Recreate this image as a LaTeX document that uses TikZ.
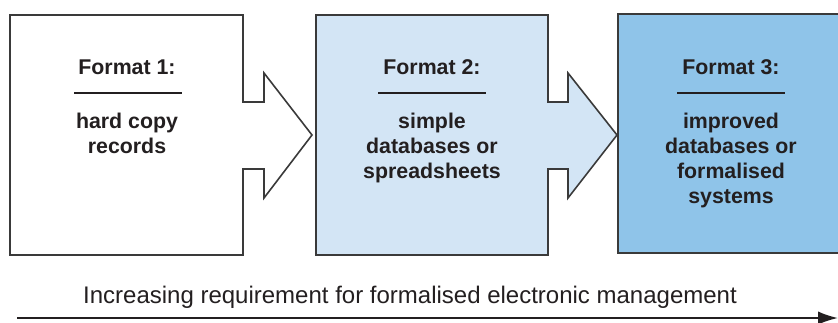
\documentclass[tikz,border=0pt]{standalone}
\usepackage{fontspec}
\setmainfont{Liberation Sans}
\usetikzlibrary{arrows.meta,positioning}
\definecolor{inkgray}{HTML}{231F20}
\definecolor{edgegray}{HTML}{3A3A3A}
\definecolor{paleblue}{HTML}{D3E5F5}
\definecolor{midblue}{HTML}{8FC4E9}

\begin{document}
\begin{tikzpicture}[x=0.75pt,y=-0.75pt,line join=miter,
  every node/.style={text=inkgray,inner sep=0pt},
  title/.style={font=\fontsize{16}{18}\selectfont\bfseries,anchor=base},
  body/.style={font=\fontsize{16}{18.8}\selectfont\bfseries,align=center,anchor=north}]
  \tikzstyle{outline}=[draw=edgegray,line width=1.2pt]
  \tikzstyle{rule}=[draw=inkgray,line width=1.5pt]
  \useasboundingbox (0,0) rectangle (838,322);

  % formats, each box with its arrow
  \draw[outline,fill=white] (10,15) -- (243,15) -- (243,102) -- (264,102) -- (264,73)
    -- (312,135) -- (264,198) -- (264,169) -- (243,169) -- (243,255) -- (10,255) -- cycle;
  \draw[outline,fill=paleblue] (316,15) -- (548,15) -- (548,102) -- (568,102) -- (568,73)
    -- (617,135) -- (568,198) -- (568,169) -- (548,169) -- (548,255) -- (316,255) -- cycle;
  \draw[outline,fill=midblue,line width=1.5pt] (618,14) rectangle (846,253);

  \node[title] (T1) at (127,74) {Format 1:};
  \node[title] (T2) at (432,74) {Format 2:};
  \node[title] (T3) at (731,74) {Format 3:};
  \draw[rule] (74,93) -- (182,93);
  \draw[rule] (378,93) -- (486,93);
  \draw[rule] (677,93) -- (785,93);

  \node[body] (B1) at (127,112.5) {hard copy\\records};
  \node[body] (B2) at (432,112.5) {simple\\databases or\\spreadsheets};
  \node[body] (B3) at (731,112.5) {improved\\databases or\\formalised\\systems};

  % trend
  \coordinate (start) at (17,318);
  \coordinate (end) at (838,318);
  \draw[line width=1.5pt,draw=inkgray,-{Latex[length=15pt,width=10pt]}] (start) -- (end);
  \node[font=\fontsize{18}{20}\selectfont,anchor=base] (trend) at (410,303)
    {Increasing requirement for formalised electronic management};
\end{tikzpicture}
\end{document}
